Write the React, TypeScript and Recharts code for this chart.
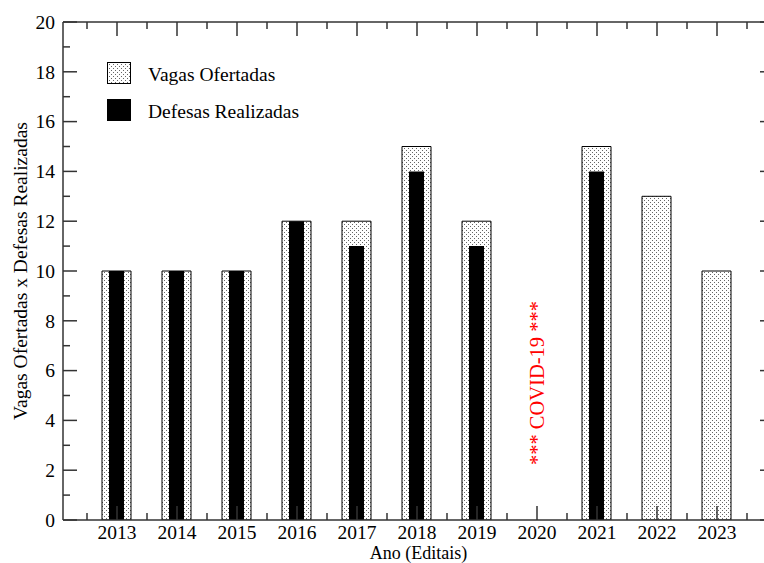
import React from 'react'
import { BarChart, Bar, XAxis, YAxis, Legend, ReferenceDot } from 'recharts'

const years = [2013, 2014, 2015, 2016, 2017, 2018, 2019, 2020, 2021, 2022, 2023]
const vagasOfertadas = [10, 10, 10, 12, 12, 15, 12, null, 15, 13, 10]
const defesasRealizadas = [10, 10, 10, 12, 11, 14, 11, null, 14, null, null]

// major ticks on the years, minor ones half way between
const xTicks = [
  2012.5, 2013, 2013.5, 2014, 2014.5, 2015, 2015.5, 2016, 2016.5, 2017, 2017.5, 2018,
  2018.5, 2019, 2019.5, 2020, 2020.5, 2021, 2021.5, 2022, 2022.5, 2023, 2023.5,
]
const yTicks = [0, 1, 2, 3, 4, 5, 6, 7, 8, 9, 10, 11, 12, 13, 14, 15, 16, 17, 18, 19, 20]
const xDomain = [2012.1, 2023.95]
const yDomain = [0, 20]

const covidNote = { year: 2020, y: 5.5, text: '*** COVID-19 ***' }

const data = years.map((year, i) => ({
  year,
  vagas: vagasOfertadas[i],
  defesas: defesasRealizadas[i],
}))

const FONT = '"Liberation Serif", "Times New Roman", serif'
const AXIS = '#333'
const FS = 19.5

const isMajorX = (v: number) => Number.isInteger(v)
const isMajorY = (v: number) => v % 2 === 0

const BottomTick = (props: any) => {
  const { x, y, payload } = props
  const major = isMajorX(payload.value)
  return (
    <g>
      <line x1={x} x2={x} y1={y} y2={y - (major ? 14 : 7)} stroke={AXIS} strokeWidth={1.5} />
      {major && (
        <text x={x} y={y + 19} textAnchor="middle" fontFamily={FONT} fontSize={FS} fill="#000">
          {payload.value}
        </text>
      )}
    </g>
  )
}

const TopTick = (props: any) => {
  const { x, y, payload } = props
  const major = isMajorX(payload.value)
  return <line x1={x} x2={x} y1={y} y2={y + (major ? 14 : 7)} stroke={AXIS} strokeWidth={1.5} />
}

const LeftTick = (props: any) => {
  const { x, y, payload } = props
  const major = isMajorY(payload.value)
  return (
    <g>
      <line x1={x} x2={x + (major ? 14 : 7)} y1={y} y2={y} stroke={AXIS} strokeWidth={1.5} />
      {major && (
        <text x={x - 8} y={y} dy="0.35em" textAnchor="end" fontFamily={FONT} fontSize={FS} fill="#000">
          {payload.value}
        </text>
      )}
    </g>
  )
}

const RightTick = (props: any) => {
  const { x, y, payload } = props
  const major = isMajorY(payload.value)
  return <line x1={x} x2={x - (major ? 14 : 7)} y1={y} y2={y} stroke={AXIS} strokeWidth={1.5} />
}

const DotPattern = ({ id }: { id: string }) => (
  <defs>
    <pattern id={id} width={4} height={4} patternUnits="userSpaceOnUse">
      <rect width={4} height={4} fill="#fff" />
      <rect x={0} y={0} width={1} height={1} fill="#666" />
      <rect x={2} y={2} width={1} height={1} fill="#666" />
    </pattern>
  </defs>
)

const legendItems = [
  { label: 'Vagas Ofertadas', fill: 'url(#dotsLegend)' },
  { label: 'Defesas Realizadas', fill: '#000' },
]

const LegendBox = () => (
  <div style={{ fontFamily: FONT, fontSize: FS, color: '#000' }}>
    <svg width={0} height={0} style={{ position: 'absolute' }}>
      <DotPattern id="dotsLegend" />
    </svg>
    {legendItems.map((item) => (
      <div key={item.label} style={{ display: 'flex', alignItems: 'center', height: 22, marginBottom: 15 }}>
        <svg width={24} height={22}>
          <rect x={0.5} y={0.5} width={23} height={21} fill={item.fill} stroke="#000" />
        </svg>
        <span style={{ marginLeft: 17, lineHeight: '22px', position: 'relative', top: 2 }}>{item.label}</span>
      </div>
    ))}
  </div>
)

const CovidLabel = (props: any) => {
  const { viewBox } = props
  const cx = viewBox.x + viewBox.width / 2
  const cy = viewBox.y + viewBox.height / 2
  return (
    <text
      x={cx}
      y={cy}
      dy="0.35em"
      textAnchor="middle"
      transform={`rotate(-90, ${cx}, ${cy})`}
      fontFamily={FONT}
      fontSize={20.5}
      fill="#ff0000"
    >
      {covidNote.text}
    </text>
  )
}

const App: React.FC = () => {
  return (
    <div style={{ position: 'absolute', left: 0, top: 0, width: 764, height: 563, overflow: 'hidden', background: '#fff' }}>
      <BarChart width={780} height={563} data={data} margin={{ top: 0, right: 0, bottom: 0, left: 0 }}>
        <DotPattern id="dots" />
        <Bar
          dataKey="vagas"
          xAxisId="a"
          yAxisId="left"
          barSize={29}
          fill="url(#dots)"
          stroke="#000"
          strokeWidth={1}
          isAnimationActive={false}
        />
        <Bar dataKey="defesas" xAxisId="b" yAxisId="left" barSize={15} fill="#000" isAnimationActive={false} />
        <XAxis
          xAxisId="a"
          dataKey="year"
          type="number"
          domain={xDomain}
          allowDataOverflow
          ticks={xTicks}
          interval={0}
          tick={BottomTick}
          tickLine={false}
          tickSize={0}
          tickMargin={0}
          height={43}
          axisLine={{ stroke: AXIS, strokeWidth: 1.5 }}
          label={{ value: 'Ano (Editais)', position: 'insideBottom', offset: 4, fontFamily: FONT, fontSize: 18, fill: '#000' }}
        />
        <XAxis xAxisId="b" dataKey="year" type="number" domain={xDomain} allowDataOverflow hide />
        <XAxis
          xAxisId="top"
          orientation="top"
          dataKey="year"
          type="number"
          domain={xDomain}
          allowDataOverflow
          ticks={xTicks}
          interval={0}
          tick={TopTick}
          tickLine={false}
          tickSize={0}
          tickMargin={0}
          height={22}
          axisLine={{ stroke: AXIS, strokeWidth: 1.5 }}
        />
        <YAxis
          yAxisId="left"
          type="number"
          domain={yDomain}
          allowDataOverflow
          ticks={yTicks}
          interval={0}
          tick={LeftTick}
          tickLine={false}
          tickSize={0}
          tickMargin={0}
          width={63}
          axisLine={{ stroke: AXIS, strokeWidth: 1.5 }}
          label={{
            value: 'Vagas Ofertadas x Defesas Realizadas',
            angle: -90,
            position: 'insideLeft',
            offset: 20,
            style: { textAnchor: 'middle' },
            fontFamily: FONT,
            fontSize: FS,
            fill: '#000',
          }}
        />
        <YAxis
          yAxisId="right"
          orientation="right"
          type="number"
          domain={yDomain}
          allowDataOverflow
          ticks={yTicks}
          interval={0}
          tick={RightTick}
          tickLine={false}
          tickSize={0}
          tickMargin={0}
          width={6}
          axisLine={{ stroke: AXIS, strokeWidth: 1.5 }}
        />
        <ReferenceDot
          xAxisId="a"
          yAxisId="left"
          x={covidNote.year}
          y={covidNote.y}
          r={0}
          fill="none"
          stroke="none"
          label={CovidLabel}
        />
        <Legend
          layout="vertical"
          align="center"
          verticalAlign="middle"
          content={LegendBox}
          wrapperStyle={{ left: 107, top: 62, width: 'auto' }}
        />
      </BarChart>
    </div>
  )
}

export default App
